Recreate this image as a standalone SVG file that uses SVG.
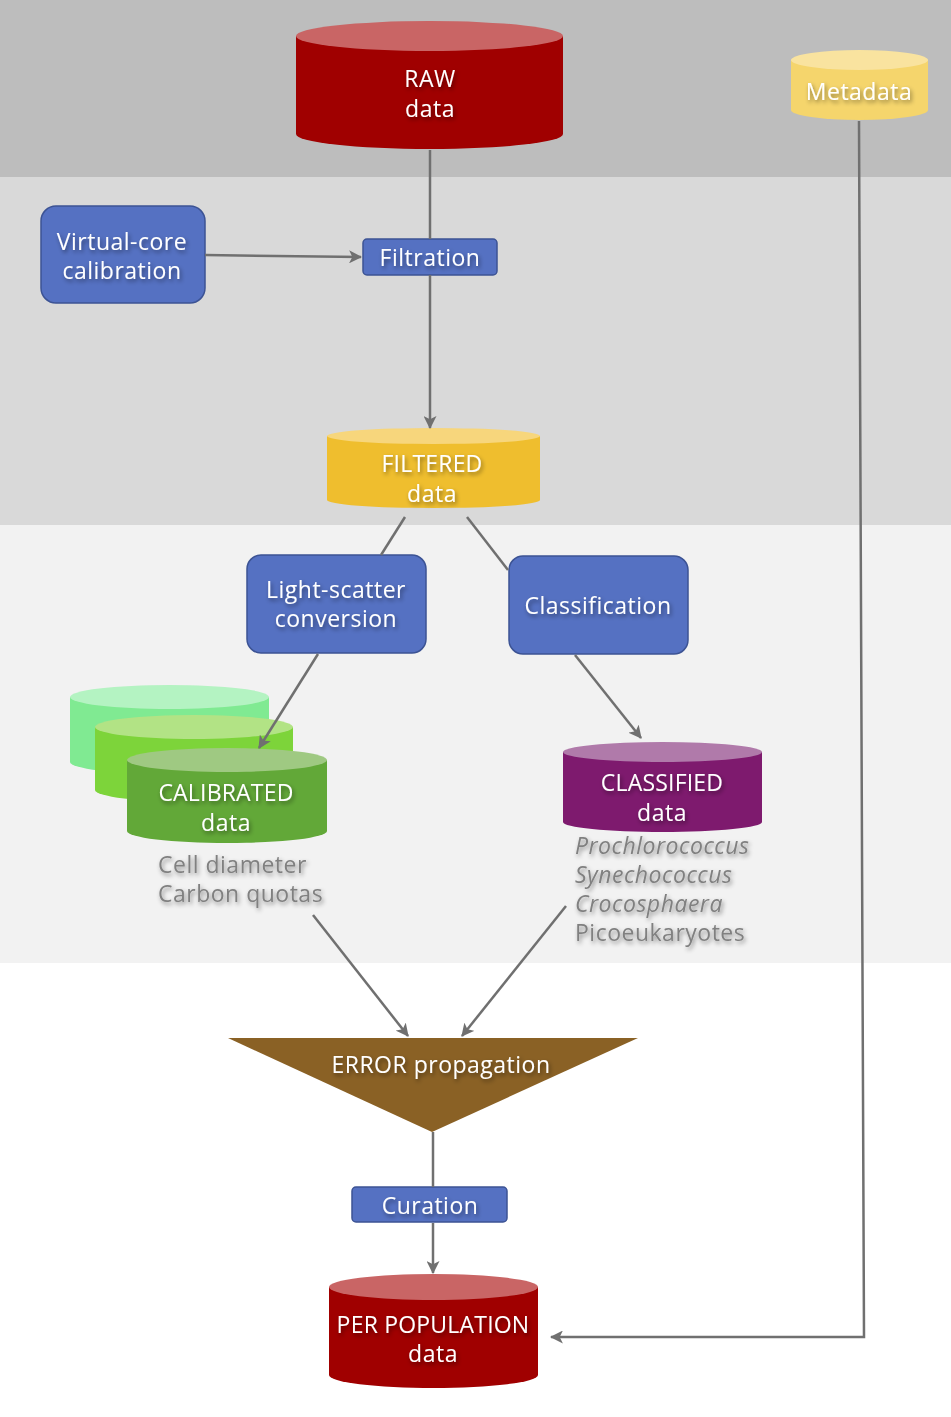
<svg xmlns="http://www.w3.org/2000/svg" width="951" height="1417" viewBox="0 0 951 1417">
<defs>
<style>
text{font-family:"Open Sans","DejaVu Sans",sans-serif;font-size:23px;letter-spacing:0.5px;fill:#ffffff;text-anchor:middle;filter:url(#ts)}
.c{letter-spacing:0.2px}
.g{fill:#808080;text-anchor:start}
.i{font-style:italic}
.con{stroke:#707070;stroke-width:2.5;fill:none}
.box{fill:#5571c2;stroke:#3c5394;stroke-width:1.5}
</style>
<filter id="ts" x="-20%" y="-40%" width="140%" height="180%">
<feDropShadow dx="1.5" dy="2.5" stdDeviation="2" flood-color="#000" flood-opacity="0.45"/>
</filter>
<marker id="ah" viewBox="0 0 12 12" refX="11" refY="6" markerWidth="13" markerHeight="13" markerUnits="userSpaceOnUse" orient="auto">
<path d="M0,0 L12,6 L0,12 L3,6 Z" fill="#707070"/>
</marker>
</defs>
<g id="bands">
<rect x="0" y="0" width="951" height="177" fill="#bdbdbd"/>
<rect x="0" y="177" width="951" height="348" fill="#d9d9d9"/>
<rect x="0" y="525" width="951" height="438" fill="#f2f2f2"/>
<rect x="0" y="963" width="951" height="454" fill="#ffffff"/>
</g>
<g id="raw">
<path d="M296,36 L296,134 A133.5,15 0 0 0 563,134 L563,36 Z" fill="#a00000"/>
<ellipse cx="429.5" cy="36" rx="133.5" ry="15" fill="#c96565"/>
<text x="430" y="87"><tspan x="430">RAW</tspan><tspan x="430" dy="29.5">data</tspan></text>
</g>
<g id="metadata">
<path d="M791,60 L791,110 A68.5,10 0 0 0 928,110 L928,60 Z" fill="#f5d56c"/>
<ellipse cx="859.5" cy="60" rx="68.5" ry="10" fill="#f9e39f"/>
<text x="859" y="100">Metadata</text>
</g>
<g id="virtualcore">
<rect class="box" x="41" y="206" width="164" height="97" rx="15"/>
<text x="122" y="250"><tspan x="122">Virtual-core</tspan><tspan x="122" dy="29">calibration</tspan></text>
</g>
<g id="filtration">
<rect class="box" x="363" y="239" width="134" height="36" rx="4"/>
<text x="430" y="266">Filtration</text>
</g>
<g id="filtered">
<path d="M327,436 L327,500 A106.5,8 0 0 0 540,500 L540,436 Z" fill="#efbe2e"/>
<ellipse cx="433.5" cy="436" rx="106.5" ry="8" fill="#f7d67c"/>
<text x="432" y="472"><tspan x="432" class="c">FILTERED</tspan><tspan x="432" dy="30">data</tspan></text>
</g>
<g id="lightscatter">
<rect class="box" x="247" y="555" width="179" height="98" rx="14"/>
<text x="336" y="598"><tspan x="336">Light-scatter</tspan><tspan x="336" dy="29">conversion</tspan></text>
</g>
<g id="classification">
<rect class="box" x="509" y="556" width="179" height="98" rx="14"/>
<text x="598" y="614">Classification</text>
</g>
<g id="calibrated">
<path d="M70,697 L70,762 A99.5,12 0 0 0 269,762 L269,697 Z" fill="#80ea92"/>
<ellipse cx="169.5" cy="697" rx="99.5" ry="12" fill="#b4f3c2"/>
<path d="M95,727 L95,790 A99,12 0 0 0 293,790 L293,727 Z" fill="#7dd43a"/>
<ellipse cx="194" cy="727" rx="99" ry="12" fill="#b2e385"/>
<path d="M127,760 L127,831 A100,12 0 0 0 327,831 L327,760 Z" fill="#62a838"/>
<ellipse cx="227" cy="760" rx="100" ry="12" fill="#9fc982"/>
<text x="226" y="801"><tspan x="226" class="c">CALIBRATED</tspan><tspan x="226" dy="29.5">data</tspan></text>
<text class="g" x="158" y="873"><tspan x="158">Cell diameter</tspan><tspan x="158" dy="29">Carbon quotas</tspan></text>
</g>
<g id="classified">
<path d="M563,752 L563,822 A99.5,10 0 0 0 762,822 L762,752 Z" fill="#7e1a6e"/>
<ellipse cx="662.5" cy="752" rx="99.5" ry="10" fill="#b07aaa"/>
<text x="662" y="791"><tspan x="662" class="c">CLASSIFIED</tspan><tspan x="662" dy="29.5">data</tspan></text>
<text class="g" x="575" y="854"><tspan x="575" class="i">Prochlorococcus</tspan><tspan x="575" dy="29" class="i">Synechococcus</tspan><tspan x="575" dy="29" class="i">Crocosphaera</tspan><tspan x="575" dy="29">Picoeukaryotes</tspan></text>
</g>
<g id="error">
<polygon points="228,1038 638,1038 432,1132" fill="#8a6125"/>
<text x="441" y="1073">ERROR propagation</text>
</g>
<g id="curation">
<rect class="box" x="352" y="1187" width="155" height="35" rx="4"/>
<text x="430" y="1214">Curation</text>
</g>
<g id="perpopulation">
<path d="M329,1287 L329,1375 A104.5,13 0 0 0 538,1375 L538,1287 Z" fill="#a00000"/>
<ellipse cx="433.5" cy="1287" rx="104.5" ry="13" fill="#c96565"/>
<text x="433" y="1333"><tspan x="433" class="c">PER POPULATION</tspan><tspan x="433" dy="29">data</tspan></text>
</g>
<g id="connectors">
<line class="con" x1="430" y1="150" x2="430" y2="239"/>
<line class="con" x1="430" y1="275" x2="430" y2="428" marker-end="url(#ah)"/>
<line class="con" x1="205" y1="255" x2="361" y2="257" marker-end="url(#ah)"/>
<line class="con" x1="405" y1="517" x2="381" y2="555"/>
<line class="con" x1="467" y1="517" x2="508" y2="570"/>
<line class="con" x1="318" y1="654" x2="259" y2="748" marker-end="url(#ah)"/>
<line class="con" x1="575" y1="655" x2="641" y2="738" marker-end="url(#ah)"/>
<line class="con" x1="313" y1="915" x2="408" y2="1036" marker-end="url(#ah)"/>
<line class="con" x1="566" y1="906" x2="462" y2="1036" marker-end="url(#ah)"/>
<line class="con" x1="433" y1="1132" x2="433" y2="1187"/>
<line class="con" x1="433" y1="1223" x2="433" y2="1273" marker-end="url(#ah)"/>
<polyline class="con" points="859,121 864,1337 551,1337" marker-end="url(#ah)"/>
</g>
</svg>
